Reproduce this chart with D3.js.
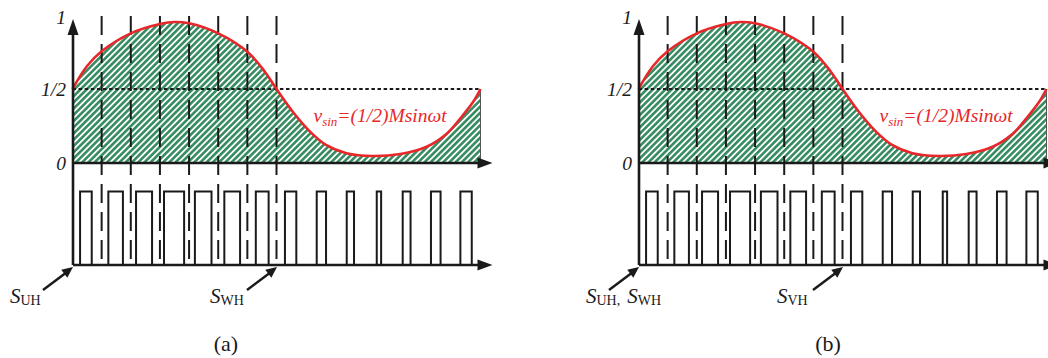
<!DOCTYPE html>
<html><head><meta charset="utf-8">
<script src="https://cdn.jsdelivr.net/npm/d3@7"></script>
<style>body{margin:0;background:#fff} svg{display:block} text{font-family:"Liberation Serif","Times New Roman",Times,"DejaVu Serif",serif}</style>
</head><body>
<svg id="c" width="1048" height="358"></svg>
<script>
// ---- data ----
const carrierPeriods = 14;
const dashT = [1, 2, 3, 4, 5, 6, 7];
const sineT = [0, 0.5, 1, 2, 3, 3.5, 4, 5, 6, 6.6, 7, 7.6, 8.15, 8.7, 9.4, 10.3, 11.25, 12.15, 12.85, 13.4, 13.75, 14];
const sineV = [0.5, 0.655, 0.755, 0.876, 0.939, 0.953, 0.944, 0.876, 0.752, 0.617, 0.5, 0.336, 0.212, 0.122, 0.066, 0.047, 0.061, 0.110, 0.2, 0.324, 0.414, 0.5];
const pulseStart = [0.26, 1.23, 2.18, 3.14, 4.20, 5.21, 6.29, 7.29, 8.38, 9.41, 10.44, 11.33, 12.30, 13.31];
const pulseEnd   = [0.66, 1.73, 2.73, 3.83, 4.77, 5.75, 6.73, 7.68, 8.70, 9.66, 10.59, 11.60, 12.63, 13.70];
const yTickValues = [0, 0.5, 1];
const yTickLabels = ["0", "1/2", "1"];
const panelNames = ["(a)", "(b)"];
const switchLabelsA = [{main: "S", sub: "UH", t: 0}, {main: "S", sub: "WH", t: 7}];
const switchLabelsB = [{main: "S", sub: "UH,", extra: "WH", t: 0}, {main: "S", sub: "VH", t: 7}];

// ---- drawing ----
const svg = d3.select("#c");
const RED = "#e8272b";
const GREEN = "#368c60";

const defs = svg.append("defs");
const pat = defs.append("pattern").attr("id", "hatch").attr("patternUnits", "userSpaceOnUse")
  .attr("width", 4.4).attr("height", 4.4).attr("patternTransform", "rotate(45)");
pat.append("rect").attr("width", 4.4).attr("height", 4.4).attr("fill", "#fff");
pat.append("rect").attr("width", 2.6).attr("height", 4.4).attr("fill", GREEN);

const panels = [
  {x0: 72.5, name: panelNames[0], nameX: 226, labels: switchLabelsA},
  {x0: 638.5, name: panelNames[1], nameX: 828, labels: switchLabelsB}
];

function arrowHead(g, x1, y1, x2, y2, len, half) {
  const dx = x2 - x1, dy = y2 - y1, L = Math.hypot(dx, dy);
  const ux = dx / L, uy = dy / L, px = -uy, py = ux;
  const bx = x2 - ux * len, by = y2 - uy * len;
  g.append("path").attr("d", `M${x2},${y2}L${bx + px * half},${by + py * half}L${bx - px * half},${by - py * half}Z`).attr("fill", "#1a1a1a");
}

panels.forEach((p, pi) => {
  const g = svg.append("g");
  const x = d3.scaleLinear().domain([0, carrierPeriods]).range([p.x0, p.x0 + 408]);
  const yU = d3.scaleLinear().domain([0, 1]).range([163, 15]);
  const yL = d3.scaleLinear().domain([0, 1]).range([265, 191.5]);
  const pts = sineT.map((t, i) => [t, sineV[i]]);

  // hatched area
  g.append("path").datum(pts)
    .attr("d", d3.area().x(d => x(d[0])).y0(yU(0)).y1(d => yU(d[1])).curve(d3.curveCatmullRom.alpha(0.5)))
    .attr("fill", "url(#hatch)");
  g.append("line").attr("x1", x(carrierPeriods)).attr("x2", x(carrierPeriods))
    .attr("y1", yU(0)).attr("y2", yU(0.5)).attr("stroke", "#555").attr("stroke-width", 1);

  // dotted 1/2 line
  g.append("line").attr("x1", x(0)).attr("x2", x(carrierPeriods)).attr("y1", yU(0.5)).attr("y2", yU(0.5))
    .attr("stroke", "#1a1a1a").attr("stroke-width", 1.8).attr("stroke-dasharray", "3.5,2.6");

  // dashed verticals
  g.selectAll(".dv").data(dashT).enter().append("line")
    .attr("x1", d => x(d)).attr("x2", d => x(d)).attr("y1", yU(1) + 1).attr("y2", yL(0))
    .attr("stroke", "#1a1a1a").attr("stroke-width", 2).attr("stroke-dasharray", "19,9");

  // sine curve
  g.append("path").datum(pts)
    .attr("d", d3.line().x(d => x(d[0])).y(d => yU(d[1])).curve(d3.curveCatmullRom.alpha(0.5)))
    .attr("fill", "none").attr("stroke", RED).attr("stroke-width", 2.6);

  // axes
  const ax = x(0) + 0.5;
  g.append("line").attr("x1", ax).attr("x2", ax).attr("y1", yL(0)).attr("y2", 30).attr("stroke", "#1a1a1a").attr("stroke-width", 2.6);
  g.append("path").attr("d", `M${ax},19L${ax - 5.5},35L${ax + 5.5},35Z`).attr("fill", "#1a1a1a");
  [yU(0), yL(0)].forEach(yy => {
    g.append("line").attr("x1", ax).attr("x2", x(0) + 410).attr("y1", yy).attr("y2", yy).attr("stroke", "#1a1a1a").attr("stroke-width", 2.6);
    g.append("path").attr("d", `M${x(0) + 420},${yy}L${x(0) + 405},${yy - 5.5}L${x(0) + 405},${yy + 5.5}Z`).attr("fill", "#1a1a1a");
  });

  // pulses
  g.selectAll(".pl").data(pulseStart).enter().append("path")
    .attr("d", (d, i) => `M${x(d)},${yL(0)}V${yL(1)}H${x(pulseEnd[i])}V${yL(0)}`)
    .attr("fill", "none").attr("stroke", "#1a1a1a").attr("stroke-width", 2);

  // y tick labels
  g.selectAll(".yl").data(yTickValues).enter().append("text")
    .attr("x", x(0) - 6.5).attr("y", d => yU(d) + (d === 1 ? 9 : 7))
    .attr("text-anchor", "end").style("font-style", "italic").style("font-size", "19.5px")
    .attr("fill", "#1a1a1a").text((d, i) => yTickLabels[i]);

  // formula
  const f = g.append("text").attr("x", x(0) + 241).attr("y", 122)
    .style("font-style", "italic").style("font-size", "19.5px").attr("fill", RED);
  f.append("tspan").text("v");
  f.append("tspan").style("font-size", "13px").attr("dy", 3.5).text("sin");
  f.append("tspan").attr("dy", -3.5).text("=(1/2)Msin\u03c9t");

  // switch labels and arrows
  p.labels.forEach((lb, li) => {
    const tipX = x(lb.t) + 0.5, tipY = yL(0) + 2;
    const sx = pi === 0 ? (li === 0 ? 10 : 210) : (li === 0 ? 586 : 777);
    const t = g.append("text").attr("x", sx).attr("y", 303).style("font-size", "21px").attr("fill", "#1a1a1a");
    t.append("tspan").style("font-style", "italic").text(lb.main);
    t.append("tspan").style("font-size", "14px").attr("dy", 2).text(lb.sub);
    if (lb.extra) {
      t.append("tspan").style("font-style", "italic").style("font-size", "21px").attr("dy", -2).attr("dx", 7).text(lb.main);
      t.append("tspan").style("font-size", "14px").attr("dy", 2).text(lb.extra);
    }
    const sxA = tipX - 30, syA = 290;
    g.append("line").attr("x1", sxA).attr("y1", syA).attr("x2", tipX - 6).attr("y2", tipY + 5)
      .attr("stroke", "#1a1a1a").attr("stroke-width", 2.4);
    arrowHead(g, sxA, syA, tipX, tipY, 11, 5);
  });

  // panel name
  g.append("text").attr("x", p.nameX).attr("y", 351).attr("text-anchor", "middle")
    .style("font-size", "22px").attr("fill", "#1a1a1a").text(p.name);
});
</script>
</body></html>
